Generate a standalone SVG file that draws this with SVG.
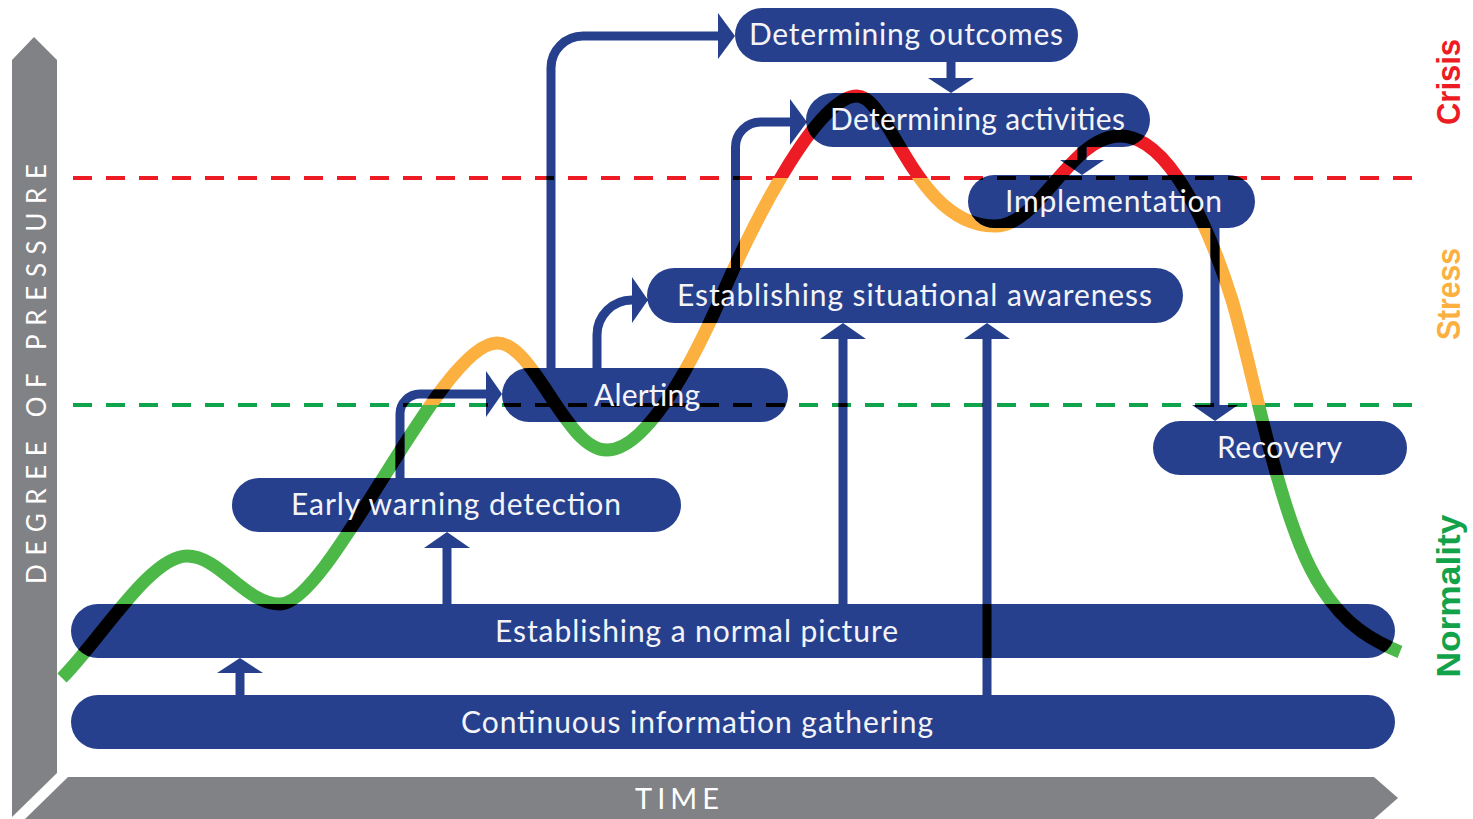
<svg xmlns="http://www.w3.org/2000/svg" width="1473" height="819" viewBox="0 0 1473 819">
  <style>
    .box { fill: #26408d; }
    .label { font-family: Lato, "Liberation Sans", sans-serif; font-size: 30px; fill: #f4f4f8; text-anchor: middle; }
    .curve { fill: none; stroke-width: 13; }
    .dash { fill: none; stroke-width: 4; stroke-dasharray: 19 14; }
    .line { fill: none; stroke-width: 9; }
    .head { stroke: none; }
    .axis { fill: #818285; }
    .axis-label { font-family: Lato, "Liberation Sans", sans-serif; fill: #ffffff; }
    .zone { font-family: "Liberation Sans", Arial, sans-serif; font-weight: bold; font-size: 33px; text-anchor: middle; }
  </style>
  <defs>
    <!-- curve colour follows the pressure band it sits in -->
    <linearGradient id="band" gradientUnits="userSpaceOnUse" x1="0" y1="0" x2="0" y2="819">
      <stop offset="0" stop-color="#ed1c24"/>
      <stop offset="0.2173" stop-color="#ed1c24"/>
      <stop offset="0.2173" stop-color="#fbb040"/>
      <stop offset="0.4945" stop-color="#fbb040"/>
      <stop offset="0.4945" stop-color="#4cb847"/>
      <stop offset="1" stop-color="#4cb847"/>
    </linearGradient>
    <path id="pressure-curve" class="curve" d="M62,678 C100,640 150,556 187,556 C220,556 245,604 280,604 C330,604 440,343 497,343 C535,343 565,450 607,450 C650,450 700,346 722,295 C747,237 815,96 857,96 C890,96 915,226 995,226 C1040,226 1070,136 1120,136 C1170,136 1210,230 1232,300 C1250,360 1270,470 1300,545 C1330,620 1370,640 1400,652"/>
    <path id="crisis-line" class="dash" d="M73,178H1425"/>
    <path id="stress-line" class="dash" d="M73,405H1425"/>
    <g id="ink-lines">
      <use href="#crisis-line"/>
      <use href="#stress-line"/>
      <use href="#pressure-curve"/>
    </g>
    <g id="ink-all">
      <use href="#ink-lines"/>
      <use href="#conn-shapes"/>
    </g>
    <mask id="on-connectors" maskUnits="userSpaceOnUse" x="0" y="0" width="1473" height="819">
      <use href="#conn-shapes" stroke="#fff" fill="#fff"/>
    </mask>
    <clipPath id="clip-outcomes"><use href="#box-outcomes"/></clipPath>
    <clipPath id="clip-activities"><use href="#box-activities"/></clipPath>
    <clipPath id="clip-implementation"><use href="#box-implementation"/></clipPath>
    <clipPath id="clip-situational"><use href="#box-situational"/></clipPath>
    <clipPath id="clip-alerting"><use href="#box-alerting"/></clipPath>
    <clipPath id="clip-recovery"><use href="#box-recovery"/></clipPath>
    <clipPath id="clip-early"><use href="#box-early"/></clipPath>
    <clipPath id="clip-normal"><use href="#box-normal"/></clipPath>
    <clipPath id="clip-continuous"><use href="#box-continuous"/></clipPath>
  </defs>

  <!-- axes -->
  <g id="axes">
    <polygon class="axis" points="12,60 34,37 57,60 57,773 12,817"/>
    <polygon class="axis" points="68,777 1374,777 1398,798 1374,819 25,819"/>
    <text class="axis-label" font-size="26" text-anchor="middle" textLength="420" lengthAdjust="spacing" transform="translate(46,374) rotate(-90)">DEGREE OF PRESSURE</text>
    <text class="axis-label" font-size="29" x="635" y="809" textLength="84" lengthAdjust="spacing">TIME</text>
  </g>

  <!-- zone names -->
  <g id="zones">
    <text class="zone" fill="#ed1c24" textLength="86" lengthAdjust="spacingAndGlyphs" transform="translate(1460,82) rotate(-90)">Crisis</text>
    <text class="zone" fill="#fbb040" textLength="92" lengthAdjust="spacingAndGlyphs" transform="translate(1460,294) rotate(-90)">Stress</text>
    <text class="zone" fill="#12a24a" textLength="163" lengthAdjust="spacingAndGlyphs" transform="translate(1460,596) rotate(-90)">Normality</text>
  </g>

  <!-- thresholds and pressure curve -->
  <g id="pressure">
    <use href="#crisis-line" stroke="#ed1c24"/>
    <use href="#stress-line" stroke="#0fa34b"/>
    <use href="#pressure-curve" stroke="url(#band)"/>
  </g>

  <!-- connectors -->
  <g id="connectors" stroke="#26408d" fill="#26408d">
    <g id="conn-shapes">
      <path class="line" d="M551,368 V68 A32,32 0 0 1 583,36 H719"/>
      <polygon class="head" points="718,13 735,36 718,59"/>
      <path class="line" d="M951,62 V79"/>
      <polygon class="head" points="928,78 974,78 951,93"/>
      <path class="line" d="M735.5,268 V147 A25,25 0 0 1 760.5,122 H791"/>
      <polygon class="head" points="790,99 807,122 790,145"/>
      <path class="line" d="M597,368 V335 A35,35 0 0 1 632,300 H633"/>
      <polygon class="head" points="632,277 648,300 632,323"/>
      <path class="line" d="M400,478 V414 A20,20 0 0 1 420,394 H487"/>
      <polygon class="head" points="486,371 502,394 486,417"/>
      <path class="line" d="M447,604 V547"/>
      <polygon class="head" points="424,548 470,548 447,532"/>
      <path class="line" d="M240,695 V672"/>
      <polygon class="head" points="217,673 263,673 240,658"/>
      <path class="line" d="M843,604 V338"/>
      <polygon class="head" points="820,339 866,339 843,323"/>
      <path class="line" d="M987,695 V338"/>
      <polygon class="head" points="964,339 1010,339 987,323"/>
      <path class="line" d="M1215,228 V406"/>
      <polygon class="head" points="1192,405 1238,405 1215,421"/>
      <path class="line" d="M1082,147 V161"/>
      <polygon class="head" points="1060,160 1104,160 1082,175"/>
    </g>
  </g>
  <!-- curve and thresholds turn black where they cross a connector -->
  <use href="#ink-lines" stroke="#000" mask="url(#on-connectors)"/>

  <!-- nodes -->
  <g id="node-outcomes">
    <rect id="box-outcomes" class="box" x="735" y="8" width="343" height="54" rx="27"/>
    <use href="#ink-all" stroke="#000" fill="#000" clip-path="url(#clip-outcomes)"/>
    <text class="label" x="906" y="45" textLength="314" lengthAdjust="spacing">Determining outcomes</text>
  </g>
  <g id="node-activities">
    <rect id="box-activities" class="box" x="806" y="93" width="344" height="54" rx="27"/>
    <use href="#ink-all" stroke="#000" fill="#000" clip-path="url(#clip-activities)"/>
    <text class="label" x="977.5" y="130" textLength="295" lengthAdjust="spacing">Determining activities</text>
  </g>
  <g id="node-implementation">
    <rect id="box-implementation" class="box" x="968" y="175" width="287" height="53" rx="26.5"/>
    <use href="#ink-all" stroke="#000" fill="#000" clip-path="url(#clip-implementation)"/>
    <text class="label" x="1113.5" y="212" textLength="217" lengthAdjust="spacing">Implementation</text>
  </g>
  <g id="node-situational">
    <rect id="box-situational" class="box" x="647" y="268" width="536" height="55" rx="27.5"/>
    <use href="#ink-all" stroke="#000" fill="#000" clip-path="url(#clip-situational)"/>
    <text class="label" x="914.5" y="306" textLength="475" lengthAdjust="spacing">Establishing situational awareness</text>
  </g>
  <g id="node-alerting">
    <rect id="box-alerting" class="box" x="502" y="368" width="286" height="54" rx="27"/>
    <use href="#ink-all" stroke="#000" fill="#000" clip-path="url(#clip-alerting)"/>
    <text class="label" x="647" y="406" textLength="106" lengthAdjust="spacing">Alerting</text>
  </g>
  <g id="node-recovery">
    <rect id="box-recovery" class="box" x="1153" y="421" width="254" height="54" rx="27"/>
    <use href="#ink-all" stroke="#000" fill="#000" clip-path="url(#clip-recovery)"/>
    <text class="label" x="1279.5" y="458" textLength="125" lengthAdjust="spacing">Recovery</text>
  </g>
  <g id="node-early">
    <rect id="box-early" class="box" x="232" y="478" width="449" height="54" rx="27"/>
    <use href="#ink-all" stroke="#000" fill="#000" clip-path="url(#clip-early)"/>
    <text class="label" x="456" y="515" textLength="330" lengthAdjust="spacing">Early warning detection</text>
  </g>
  <g id="node-normal">
    <rect id="box-normal" class="box" x="71" y="604" width="1324" height="54" rx="27"/>
    <use href="#ink-all" stroke="#000" fill="#000" clip-path="url(#clip-normal)"/>
    <text class="label" x="696.5" y="642" textLength="403" lengthAdjust="spacing">Establishing a normal picture</text>
  </g>
  <g id="node-continuous">
    <rect id="box-continuous" class="box" x="71" y="695" width="1324" height="54" rx="27"/>
    <use href="#ink-all" stroke="#000" fill="#000" clip-path="url(#clip-continuous)"/>
    <text class="label" x="697" y="733" textLength="472" lengthAdjust="spacing">Continuous information gathering</text>
  </g>
</svg>
